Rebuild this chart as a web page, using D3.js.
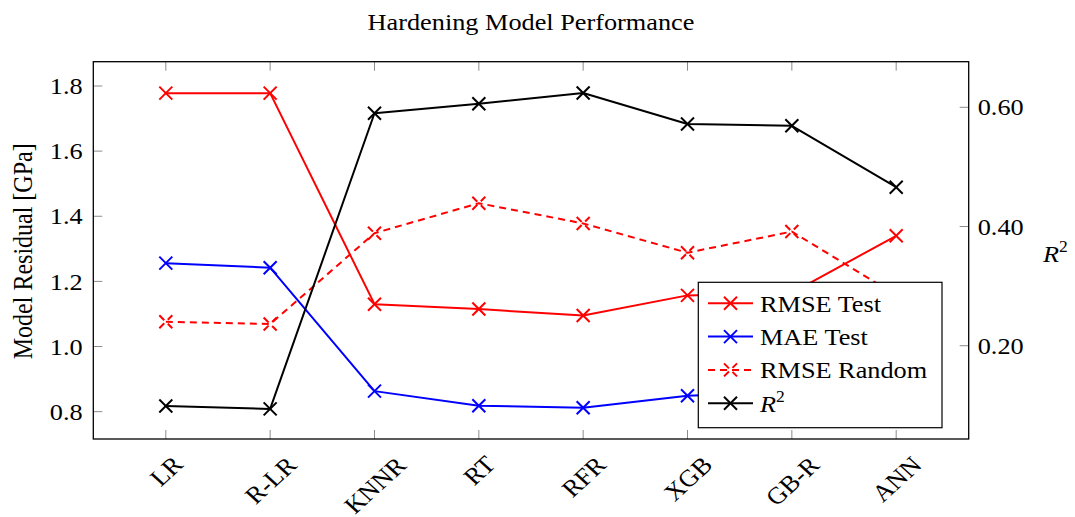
<!DOCTYPE html>
<html>
<head>
<meta charset="utf-8">
<script src="https://cdn.jsdelivr.net/npm/d3@7"></script>
<style>
  html, body { margin: 0; padding: 0; background: #fff; }
  svg { display: block; font-family: "Liberation Serif", "Times New Roman", serif; }
</style>
</head>
<body>
<svg id="chart" width="1075" height="517"></svg>
<script>
// Model names along the x axis
const models = ["LR", "R-LR", "KNNR", "RT", "RFR", "XGB", "GB-R", "ANN"];

// Residuals in GPa (left axis)
const rmseTest   = [1.778, 1.778, 1.130, 1.115, 1.095, 1.157, 1.165, 1.340];
const maeTest    = [1.256, 1.242, 0.863, 0.818, 0.812, 0.849, 0.860, 0.930];
const rmseRandom = [1.076, 1.069, 1.348, 1.440, 1.378, 1.288, 1.353, 1.158];

// Coefficient of determination (right axis)
const r2 = [0.099, 0.094, 0.590, 0.606, 0.624, 0.572, 0.569, 0.466];

// Tick values
const leftTicks  = [0.8, 1.0, 1.2, 1.4, 1.6, 1.8];
const rightTicks = [0.20, 0.40, 0.60];

const box = { left: 93.3, right: 968.7, top: 61.7, bottom: 439 };
const FONT = 24;
const SX = 1.095;            // horizontal widening of the serif lettering
const WIDE = `scale(${SX},1)`;

const svg = d3.select("#chart");

const x = d3.scalePoint().domain(models).range([box.left, box.right]).padding(0.695);
const yL = d3.scaleLinear().domain([0.716, 1.8746]).range([box.bottom, box.top]);
const yR = d3.scaleLinear().domain([0.0435, 0.6765]).range([box.bottom, box.top]);

const series = [
  { name: "RMSE Test",   values: rmseTest,   y: yL, color: "#ff0000", dash: null },
  { name: "MAE Test",    values: maeTest,    y: yL, color: "#0000ff", dash: null },
  { name: "RMSE Random", values: rmseRandom, y: yL, color: "#ff0000", dash: "7,5" },
  { name: "R2",          values: r2,         y: yR, color: "#000000", dash: null }
];

// Tick marks (drawn inside the frame, in grey)
const tickLen = 9;
const ticks = svg.append("g").attr("stroke", "#8c8c8c").attr("stroke-width", 1);
models.forEach(m => {
  ticks.append("line").attr("x1", x(m)).attr("x2", x(m)).attr("y1", box.bottom).attr("y2", box.bottom - tickLen);
  ticks.append("line").attr("x1", x(m)).attr("x2", x(m)).attr("y1", box.top).attr("y2", box.top + tickLen);
});
leftTicks.forEach(v => {
  ticks.append("line").attr("x1", box.left).attr("x2", box.left + tickLen).attr("y1", yL(v)).attr("y2", yL(v));
});
rightTicks.forEach(v => {
  ticks.append("line").attr("x1", box.right).attr("x2", box.right - tickLen).attr("y1", yR(v)).attr("y2", yR(v));
});

// Tick labels via d3 axes, with axis lines hidden
const axL = svg.append("g").attr("transform", `translate(${box.left},0)`)
  .call(d3.axisLeft(yL).tickValues(leftTicks).tickFormat(d3.format(".1f")).tickSize(0).tickPadding(9.7));
const axR = svg.append("g").attr("transform", `translate(${box.right},0)`)
  .call(d3.axisRight(yR).tickValues(rightTicks).tickFormat(d3.format(".2f")).tickSize(0).tickPadding(8.2));
const axB = svg.append("g").attr("transform", `translate(0,${box.bottom})`)
  .call(d3.axisBottom(x).tickSize(0).tickPadding(0));
[axL, axR, axB].forEach(a => {
  a.select(".domain").remove();
  a.selectAll("text").attr("font-size", FONT).attr("font-family", "Liberation Serif, serif").attr("fill", "#000");
});
axL.selectAll(".tick text").attr("transform", WIDE);
axR.selectAll(".tick text").attr("transform", WIDE);

// Rotated model names: each centred on its tick, pushed down by its length
axB.selectAll(".tick text")
  .attr("text-anchor", "middle")
  .attr("dy", null)
  .attr("y", null)
  .attr("dominant-baseline", "central")
  .attr("transform", function () {
    const len = this.getComputedTextLength();
    return `translate(0,${20.3 + len * 0.383}) ${WIDE} rotate(-45)`;
  });

// Lines and markers
const mk = 6.5;
function drawMarker(g, cx, cy, color, dash) {
  [[-mk, -mk, mk, mk], [-mk, mk, mk, -mk]].forEach(([a, b, c, d]) => {
    g.append("line")
      .attr("x1", cx + a).attr("y1", cy + b).attr("x2", cx + c).attr("y2", cy + d)
      .attr("stroke", color).attr("stroke-width", 2)
      .attr("stroke-dasharray", dash);
  });
}

const plot = svg.append("g");
series.forEach(s => {
  const line = d3.line().x((d, i) => x(models[i])).y(d => s.y(d));
  plot.append("path")
    .attr("d", line(s.values))
    .attr("fill", "none")
    .attr("stroke", s.color)
    .attr("stroke-width", 2)
    .attr("stroke-linejoin", "round")
    .attr("stroke-dasharray", s.dash);
  s.values.forEach((v, i) => drawMarker(plot, x(models[i]), s.y(v), s.color, s.dash));
});

// Frame
svg.append("rect")
  .attr("x", box.left).attr("y", box.top)
  .attr("width", box.right - box.left).attr("height", box.bottom - box.top)
  .attr("fill", "none").attr("stroke", "#000").attr("stroke-width", 1.3);

// Title
svg.append("text")
  .attr("transform", `translate(${(box.left + box.right) / 2},29.5) ${WIDE}`)
  .attr("text-anchor", "middle").attr("font-size", FONT)
  .text("Hardening Model Performance");

// Left axis title
svg.append("text")
  .attr("transform", `translate(32,251.3) ${WIDE} rotate(-90)`)
  .attr("text-anchor", "middle").attr("font-size", FONT)
  .text("Model Residual [GPa]");

// Right axis title: R²
const rt = svg.append("text")
  .attr("transform", `translate(1043,262) ${WIDE}`)
  .attr("font-size", FONT);
rt.append("tspan").attr("font-style", "italic").text("R");
rt.append("tspan").attr("font-size", 16).attr("dy", -10).text("2");

// Legend
const lg = svg.append("g");
lg.append("rect")
  .attr("x", 698.3).attr("y", 282.3).attr("width", 243.7).attr("height", 145.4)
  .attr("fill", "#fff").attr("stroke", "#000").attr("stroke-width", 1.2);
series.forEach((s, i) => {
  const cy = 303.3 + i * 33.3;
  lg.append("line")
    .attr("x1", 708).attr("x2", 753).attr("y1", cy).attr("y2", cy)
    .attr("stroke", s.color).attr("stroke-width", 2).attr("stroke-dasharray", s.dash);
  drawMarker(lg, 730.5, cy, s.color, s.dash);
  const t = lg.append("text")
    .attr("transform", `translate(760,${cy}) ${WIDE}`)
    .attr("dy", "0.35em").attr("font-size", FONT);
  if (s.name === "R2") {
    t.append("tspan").attr("font-style", "italic").text("R");
    t.append("tspan").attr("font-size", 16).attr("dy", -10).text("2");
  } else {
    t.text(s.name);
  }
});
</script>
</body>
</html>
